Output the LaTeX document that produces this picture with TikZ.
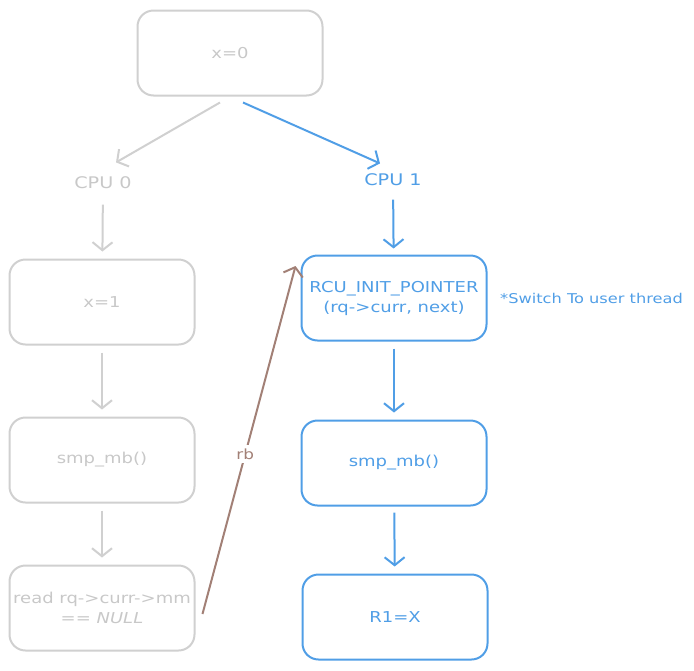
\documentclass[tikz,border=0pt]{standalone}
\usepackage{fontspec}
\setmainfont{DejaVu Sans}[FakeStretch=1.2]
\usetikzlibrary{arrows.meta}
\definecolor{pale}{RGB}{208,208,208}
\definecolor{paletext}{RGB}{200,200,200}
\definecolor{cpublue}{RGB}{80,158,230}
\definecolor{rbbrown}{RGB}{162,128,118}
\tikzset{
  box/.style={draw, rounded corners=16pt, minimum width=185pt, minimum height=85pt,
    line width=2pt, align=center, font=\fontsize{15}{20}\selectfont},
  greybox/.style={box, draw=pale, text=paletext},
  bluebox/.style={box, draw=cpublue, text=cpublue},
  arr/.style={line width=2pt, -{Straight Barb[length=8pt,width=20pt]}},
  cpulabel/.style={font=\fontsize{16}{19}\selectfont}
}
\begin{document}
\begin{tikzpicture}[x=1pt, y=-1pt]
				\useasboundingbox (0,0) rectangle (694,670);
				\node [greybox] (x0) at (230,53) {x=0};
				\node [cpulabel, text=paletext] (cpu0) at (103,183) {CPU 0};
				\node [cpulabel, text=cpublue] (cpu1) at (393,180) {CPU 1};
				\node [greybox] (x1) at (102,302) {x=1};
				\node [greybox] (mb0) at (102,460) {smp\_mb()};
				\node [greybox] (rd) at (102,608) {read rq->curr->mm\\== \textit{NULL}};
				\node [bluebox] (rcu) at (394,298) {RCU\_INIT\_POINTER\\(rq->curr, next)};
				\node [anchor=west, text=cpublue, font=\fontsize{13.5}{16}\selectfont, inner sep=0pt] (note) at (500,298) {*Switch To user thread};
				\node [bluebox] (mb1) at (394,463) {smp\_mb()};
				\node [bluebox] (r1) at (395,617) {R1=X};
				\draw [arr, pale] ([xshift=-10pt,yshift=-6pt]x0.south) -- ([xshift=13pt,yshift=11pt]cpu0.north);
				\draw [arr, cpublue] ([xshift=13pt,yshift=-6pt]x0.south) -- ([xshift=-13pt,yshift=7pt]cpu1.north);
				\draw [arr, pale, shorten <=12pt, shorten >=7pt] (cpu0) -- (x1);
				\draw [arr, pale, shorten <=7pt, shorten >=7pt] (x1) -- (mb0);
				\draw [arr, pale, shorten <=7pt, shorten >=7pt] (mb0) -- (rd);
				\draw [arr, cpublue, shorten <=10pt, shorten >=6pt] (cpu1) -- (rcu);
				\draw [arr, cpublue, shorten <=7pt, shorten >=7pt] (rcu) -- (mb1);
				\draw [arr, cpublue, shorten <=6pt, shorten >=7pt] (mb1) -- (r1);
				\draw [arr, rbbrown] ([xshift=7pt,yshift=-6pt]rd.east) -- ([xshift=-5pt,yshift=32pt]rcu.west) node[pos=0.46, fill=white, text=rbbrown, font=\fontsize{14}{16}\selectfont] (rblabel) {rb};
			\end{tikzpicture}
\end{document}
